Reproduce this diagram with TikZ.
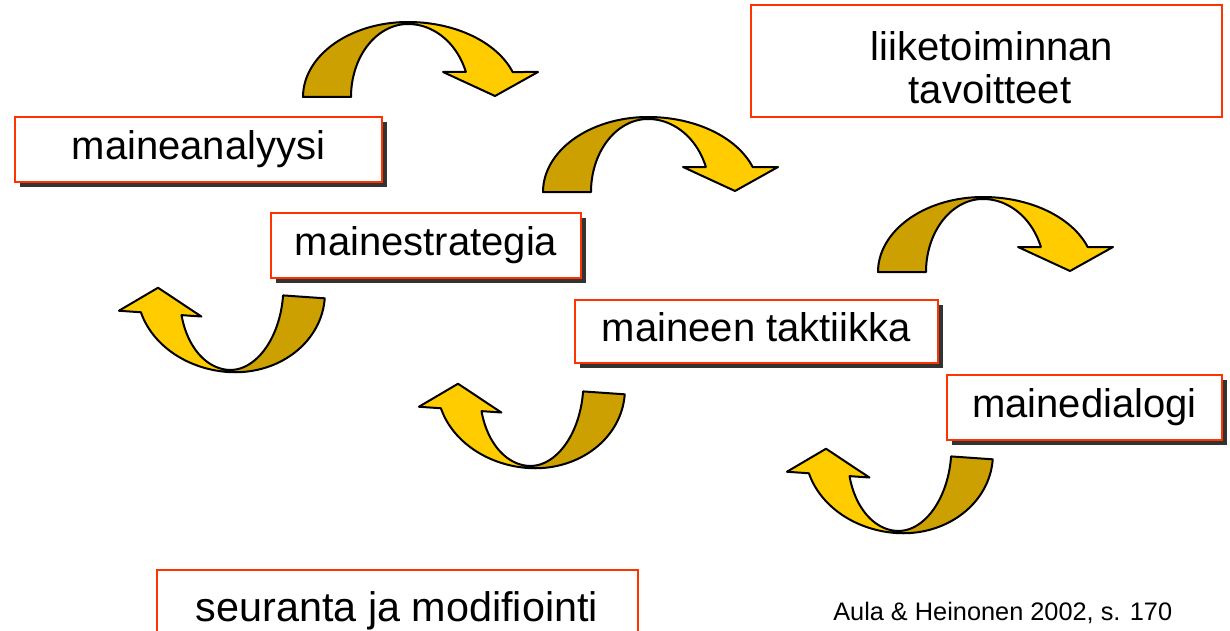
\documentclass[tikz,border=0pt]{standalone}
\usepackage{fontspec}
\setmainfont{Liberation Sans}
\usetikzlibrary{shadows}
\definecolor{arrowlight}{RGB}{255,204,0}
\definecolor{arrowdark}{RGB}{204,160,0}
\definecolor{boxred}{RGB}{255,51,0}
\definecolor{shadowgray}{RGB}{51,51,51}
\tikzset{
  labelbox/.style={draw=boxred, line width=1.5pt, fill=white, inner sep=0pt,
    font=\fontsize{30}{33}\selectfont, text height=21pt, text depth=6pt},
  plaintext/.style={inner sep=0pt, anchor=base, font=\fontsize{30}{33}\selectfont},
  shadowed/.style={drop shadow={shadow xshift=3.5pt, shadow yshift=-3.5pt, fill=shadowgray, opacity=1}},
  arrowline/.style={draw=black, line width=1.5pt, line join=round},
  curlyarrow/.pic={
    \filldraw[arrowline, fill=arrowdark]
      plot[domain=180:270, samples=40, variable=\t] ({105*cos(\t)},{75+75*sin(\t)})
      -- (0,2)
      -- plot[domain=270:180, samples=40, variable=\t] ({57*cos(\t)},{75+73*sin(\t)})
      -- cycle;
    \filldraw[arrowline, fill=arrowlight]
      plot[domain=270:340.53, samples=40, variable=\t] ({111*cos(\t)},{75+75*sin(\t)})
      -- (130,50) -- (87,74) -- (35,50) -- (57.9,50)
      -- plot[domain=339.97:270, samples=40, variable=\t] ({61.6*cos(\t)},{75+73*sin(\t)})
      -- cycle;
  }
}
\begin{document}
\begin{tikzpicture}[x=0.75pt, y=-0.75pt]
\useasboundingbox (0,0) rectangle (1230,631);
\clip (0,0) rectangle (1230,631);
\fill[white] (0,0) rectangle (1230,631);

% top (curved down) arrows
\begin{scope}[shift={(408,22)}] \pic[transform shape] {curlyarrow}; \end{scope}
\begin{scope}[shift={(648,117)}] \pic[transform shape] {curlyarrow}; \end{scope}
\begin{scope}[shift={(983,197)}] \pic[transform shape] {curlyarrow}; \end{scope}

% bottom (curved up) arrows
\begin{scope}[shift={(228,372)}, rotate=-4, xscale=0.87, yscale=1.07, rotate=180] \pic[transform shape] {curlyarrow}; \end{scope}
\begin{scope}[shift={(528,468)}, rotate=-4, xscale=0.87, yscale=1.07, rotate=180] \pic[transform shape] {curlyarrow}; \end{scope}
\begin{scope}[shift={(896,533)}, rotate=-4, xscale=0.87, yscale=1.07, rotate=180] \pic[transform shape] {curlyarrow}; \end{scope}

% boxes
\node[labelbox, shadowed, minimum width=275.25pt, minimum height=48.75pt] (ana) at (198.5,149.5) {maineanalyysi};
\node[labelbox, shadowed, minimum width=232.5pt, minimum height=48.75pt] (strat) at (426,245.5) {mainestrategia};
\node[labelbox, shadowed, minimum width=272.25pt, minimum height=47.25pt] (takt) at (756.5,331.5) {maineen taktiikka};
\node[labelbox, shadowed, minimum width=206.25pt, minimum height=48.75pt] (dial) at (1084.5,407.5) {mainedialogi};
\node[labelbox, minimum width=353.25pt, minimum height=84pt] (liike) at (986.5,61) {};
\node[plaintext] (liike1) at (992,61) {liiketoiminnan};
\node[plaintext] (liike2) at (990,104) {tavoitteet};
\node[labelbox, minimum width=360.75pt, minimum height=61.5pt, font=\fontsize{31}{34}\selectfont] (seur) at (397,611) {seuranta ja modifiointi};

% source
\node[anchor=base west, inner sep=0pt, font=\fontsize{19}{22}\selectfont] (src) at (833,620) {Aula \& Heinonen 2002, s. 170};
\end{tikzpicture}
\end{document}
